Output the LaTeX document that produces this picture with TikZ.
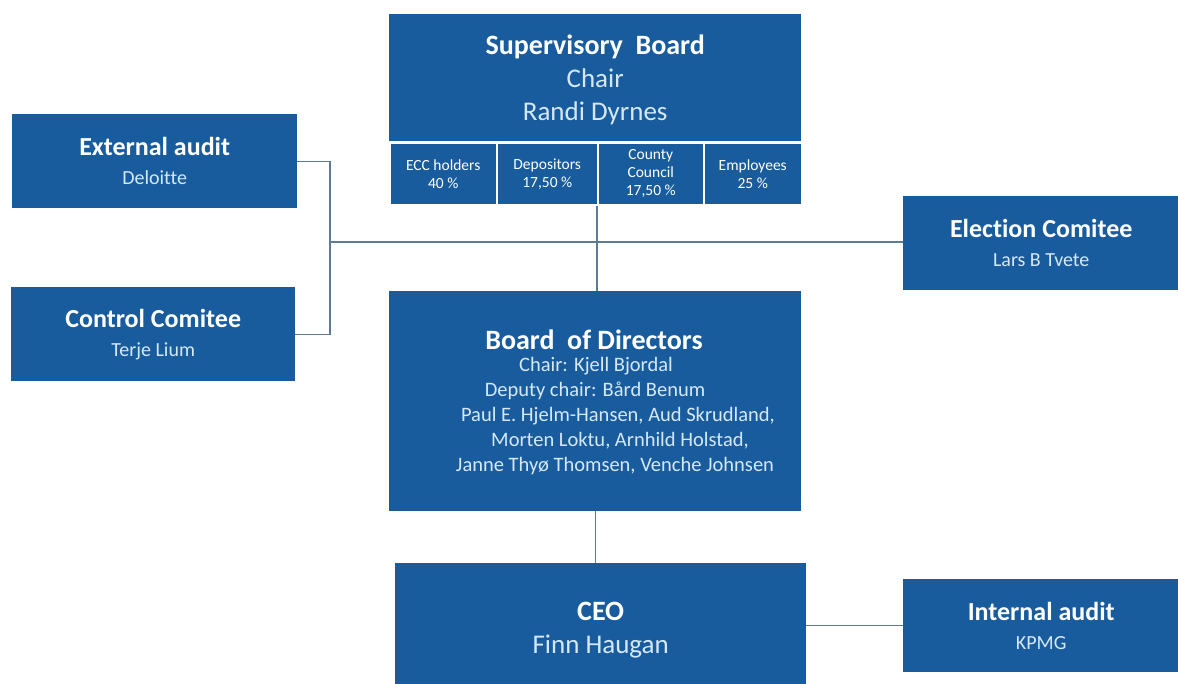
\documentclass[tikz,border=0pt]{standalone}
\usepackage{fontspec}
\setmainfont{Carlito}[Ligatures=NoCommon]
\definecolor{boxblue}{RGB}{24,92,158}
\definecolor{subtxt}{RGB}{214,232,248}
\definecolor{linegray}{RGB}{95,122,146}
\tikzset{
  box/.style={fill=boxblue, draw=none, anchor=north west, inner sep=0pt, text=white, align=center},
  sidebox/.style={box, font=\fsz{20}{29}},
  subbox/.style={fill=boxblue, draw=white, line width=1.5pt, anchor=north west, inner sep=0pt, text=white, align=center, font=\fsz{15.5}{18}},
  conn/.style={draw=linegray, line width=1.3pt},
  txt/.style={text=subtxt, inner sep=0pt},
}
\newcommand{\fsz}[2]{\fontsize{#1}{#2}\selectfont}
\begin{document}
\begin{tikzpicture}[x=1pt,y=-1pt]
\clip (0,0) rectangle (1178,683);
\fill[white] (0,0) rectangle (1178,683);
% Supervisory board
\node[box, minimum width=412pt, minimum height=127pt, font=\fsz{27}{33}] (sb) at (389,14) {};
\node[txt, align=center, font=\fsz{27}{33}] (sbt) at ([yshift=-2.5pt]sb.center)
  {{\fsz{28}{33}\bfseries\color{white}Supervisory\ \ Board}\\Chair\\Randi Dyrnes};
\node[subbox, minimum width=107pt, minimum height=62pt] (ecc) at (389,142) {ECC holders\\40 \%};
\node[subbox, minimum width=101pt, minimum height=62pt] (dep) at (496,142) {Depositors\\17,50 \%};
\node[subbox, minimum width=106pt, minimum height=62pt] (cou) at (597,142) {County\\Council\\17,50 \%};
\node[subbox, minimum width=98pt, minimum height=62pt] (emp) at (703,142) {Employees\\25 \%};
% External audit
\node[sidebox, minimum width=285pt, minimum height=94pt] (ea) at (12,114)
  {{\fsz{26}{29}\bfseries External audit}\\{\color{subtxt}Deloitte}};
% Control comitee
\node[sidebox, minimum width=284pt, minimum height=94pt] (cc) at (11,287)
  {{\fsz{26}{29}\bfseries Control Comitee}\\{\color{subtxt}Terje Lium}};
% Election comitee
\node[sidebox, minimum width=276pt, minimum height=94pt] (ec) at (903,196)
  {{\fsz{26}{29}\bfseries Election Comitee}\\{\color{subtxt}Lars B Tvete}};
% Board of directors
\node[box, minimum width=412pt, minimum height=220pt] (bod) at (389,291) {};
\node[txt, text=white, font=\fsz{28}{30}\bfseries] (bd1) at (594,340) {Board\ \ of Directors};
\node[txt, font=\fsz{20.5}{25}] (bd2) at (596,366) {Chair: Kjell Bjordal};
\node[txt, font=\fsz{20.5}{25}] (bd3) at (595,391) {Deputy chair: Bård Benum};
\node[txt, font=\fsz{20.5}{25}] (bd4) at (618,416) {Paul E. Hjelm-Hansen, Aud Skrudland,};
\node[txt, font=\fsz{20.5}{25}] (bd5) at (620,441) {Morten Loktu, Arnhild Holstad,};
\node[txt, font=\fsz{20.5}{25}] (bd6) at (615,466) {Janne Thyø Thomsen, Venche Johnsen};
% CEO
\node[box, minimum width=411pt, minimum height=134pt, font=\fsz{27}{33}] (ceo) at (395,563)
  {{\fsz{28}{33}\bfseries CEO}\\{\color{subtxt}Finn Haugan}};
% Internal audit
\node[sidebox, minimum width=276pt, minimum height=93pt] (ia) at (903,579)
  {{\fsz{26}{29}\bfseries Internal audit}\\{\color{subtxt}KPMG}};
% connectors
\coordinate (jl) at (330,242);
\draw[conn] (ea.east) -| (jl) |- (cc.east);
\draw[conn] (jl) -- (jl -| ec.west);
\draw[conn] (cou.south west) -- (cou.south west |- bod.north);
\draw[conn] (bod.south) -- (bod.south |- ceo.north);
\draw[conn] (ia.west) -- (ia.west -| ceo.east);
\end{tikzpicture}
\end{document}
